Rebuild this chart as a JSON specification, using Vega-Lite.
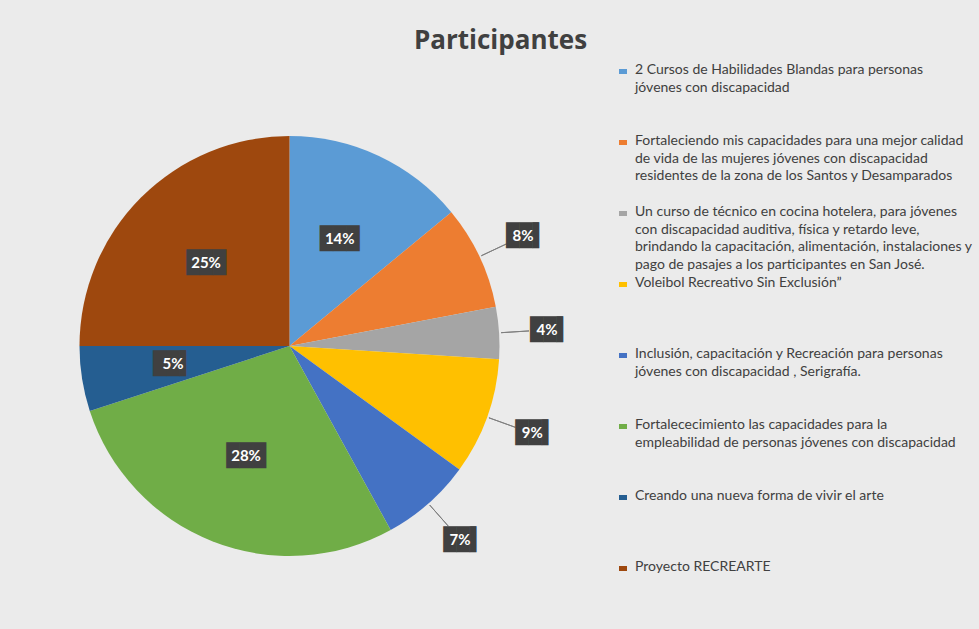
{
  "$schema": "https://vega.github.io/schema/vega-lite/v6.json",
  "width": 979,
  "height": 629,
  "autosize": {"type": "fit", "contains": "padding"},
  "padding": {"left": 22, "top": 28, "right": 0, "bottom": 0},
  "background": "#ebebeb",
  "title": {
    "text": "Participantes",
    "font": "Open Sans",
    "fontSize": 26,
    "fontWeight": "bold",
    "color": "#404040",
    "anchor": "middle",
    "frame": "bounds",
    "offset": 9
  },
  "data": {
    "values": [
      {"n": 1, "proyecto": " 2 Cursos de  Habilidades Blandas para personas|jóvenes con discapacidad", "pct": 0.14},
      {"n": 2, "proyecto": "Fortaleciendo mis capacidades para una mejor calidad|de vida de las mujeres jóvenes con discapacidad|residentes de la zona de los Santos y Desamparados", "pct": 0.08},
      {"n": 3, "proyecto": " Un curso de técnico en cocina hotelera, para jóvenes|con discapacidad auditiva, física y retardo leve,|brindando la capacitación, alimentación, instalaciones y|pago de pasajes a los participantes  en San José.", "pct": 0.04},
      {"n": 4, "proyecto": "Voleibol Recreativo Sin Exclusión”", "pct": 0.09},
      {"n": 5, "proyecto": "Inclusión, capacitación y Recreación para personas|jóvenes con discapacidad , Serigrafía.", "pct": 0.07},
      {"n": 6, "proyecto": "Fortalececimiento las capacidades para la|empleabilidad de personas jóvenes con discapacidad", "pct": 0.28},
      {"n": 7, "proyecto": "Creando una nueva forma de vivir el arte", "pct": 0.05},
      {"n": 8, "proyecto": "Proyecto RECREARTE", "pct": 0.25}
    ]
  },
  "encoding": {
    "theta": {"field": "pct", "type": "quantitative", "stack": true},
    "order": {"field": "n", "type": "quantitative"}
  },
  "layer": [
    {
      "mark": {"type": "arc", "outerRadius": 210},
      "encoding": {
        "color": {
          "field": "proyecto",
          "type": "nominal",
          "scale": {
            "domain": [
              " 2 Cursos de  Habilidades Blandas para personas|jóvenes con discapacidad",
              "Fortaleciendo mis capacidades para una mejor calidad|de vida de las mujeres jóvenes con discapacidad|residentes de la zona de los Santos y Desamparados",
              " Un curso de técnico en cocina hotelera, para jóvenes|con discapacidad auditiva, física y retardo leve,|brindando la capacitación, alimentación, instalaciones y|pago de pasajes a los participantes  en San José.",
              "Voleibol Recreativo Sin Exclusión”",
              "Inclusión, capacitación y Recreación para personas|jóvenes con discapacidad , Serigrafía.",
              "Fortalececimiento las capacidades para la|empleabilidad de personas jóvenes con discapacidad",
              "Creando una nueva forma de vivir el arte",
              "Proyecto RECREARTE"
            ],
            "range": ["#5B9BD5", "#ED7D31", "#A5A5A5", "#FFC000", "#4472C4", "#70AD47", "#255E91", "#9E480E"]
          },
          "legend": {
            "title": null,
            "orient": "right",
            "offset": 53,
            "padding": 6,
            "labelExpr": "split(datum.label, '|')",
            "labelFont": "Lato",
            "labelFontSize": 14,
            "labelColor": "#404040",
            "labelLimit": 345,
            "labelBaseline": "top",
            "labelOffset": 5,
            "symbolType": "square",
            "symbolSize": 64,
            "symbolStrokeWidth": 0,
            "clipHeight": 2,
            "gridAlign": "all",
            "rowPadding": 4
          }
        }
      }
    },
    {
      "mark": {"type": "arc", "innerRadius": 212, "outerRadius": 240, "padAngle": 1.2, "fillOpacity": 0, "stroke": "#7f7f7f", "strokeWidth": 1},
      "encoding": {
        "strokeOpacity": {"condition": {"test": "datum.pct < 0.1 && datum.pct != 0.05", "value": 1}, "value": 0}
      }
    },
    {
      "mark": {"type": "text", "radius": 118, "font": "DejaVu Sans Mono", "fontSize": 22, "fill": "#404040", "baseline": "middle"},
      "encoding": {
        "text": {"condition": [{"test": "datum.pct < 0.1 && datum.pct != 0.05", "value": ""}, {"test": "datum.pct == 0.05", "value": "██▌"}], "value": "███"}
      }
    },
    {
      "mark": {"type": "text", "radius": 118, "font": "Lato", "fontSize": 15, "fontWeight": "bold", "fill": "white", "baseline": "middle"},
      "encoding": {
        "text": {"condition": {"test": "datum.pct < 0.1 && datum.pct != 0.05", "value": ""}, "field": "pct", "type": "quantitative", "format": ".0%"}
      }
    },
    {
      "mark": {"type": "text", "radius": 258, "font": "DejaVu Sans Mono", "fontSize": 22, "fill": "#404040", "baseline": "middle", "dx": 3},
      "encoding": {
        "text": {"condition": {"test": "datum.pct >= 0.1 || datum.pct == 0.05", "value": ""}, "value": "██▌"}
      }
    },
    {
      "mark": {"type": "text", "radius": 258, "font": "Lato", "fontSize": 15, "fontWeight": "bold", "fill": "white", "baseline": "middle"},
      "encoding": {
        "text": {"condition": {"test": "datum.pct >= 0.1 || datum.pct == 0.05", "value": ""}, "field": "pct", "type": "quantitative", "format": ".0%"}
      }
    }
  ],
  "config": {
    "view": {"stroke": null},
    "style": {"guide-label": {"lineHeight": 17.5, "dy": -7}}
  }
}
